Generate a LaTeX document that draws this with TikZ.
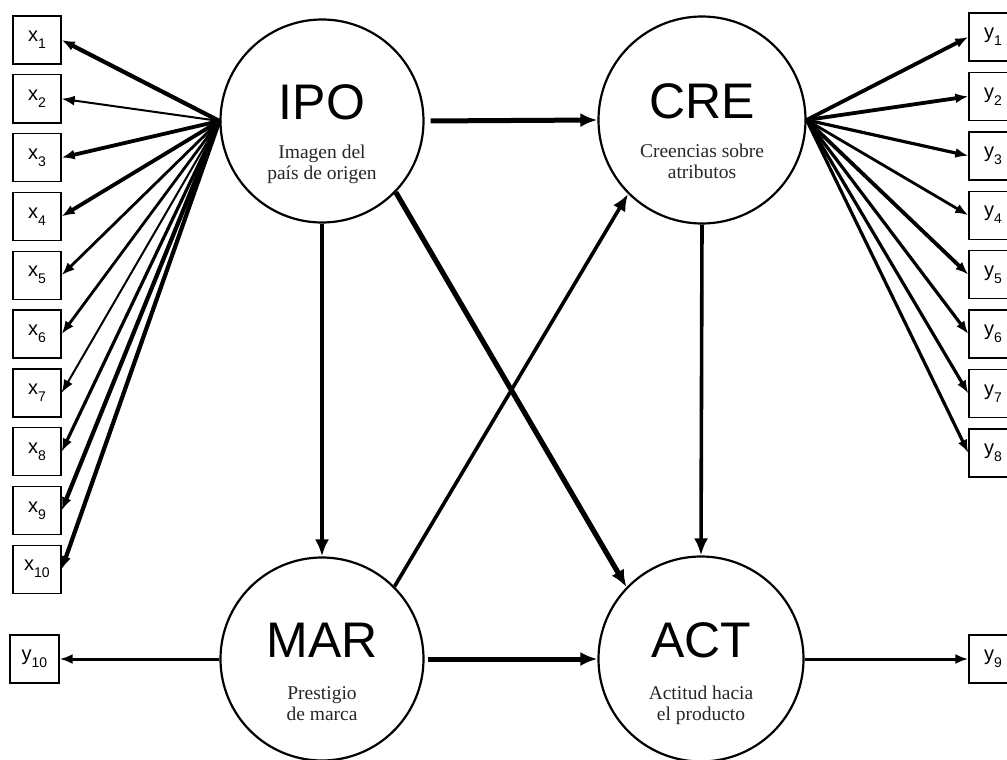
\documentclass[tikz,border=0pt]{standalone}
\usepackage{fontspec}
\setmainfont{Liberation Sans}
\newfontfamily\subfont{Liberation Serif}
\usetikzlibrary{arrows.meta}
\newcommand\mv[2]{#1\raisebox{-0.35em}{\fontsize{14}{14}\selectfont #2}}
\begin{document}
\begin{tikzpicture}[x=1pt,y=-1pt,
  lat/.style={circle,draw,line width=2.2pt,minimum size=203pt,inner sep=0pt},
  obs/.style={draw,line width=1.4pt,minimum width=48pt,minimum height=48pt,inner sep=0pt,font=\fontsize{20}{20}\selectfont},
  ttl/.style={anchor=base,font=\fontsize{50}{50}\selectfont,inner sep=0pt},
  sub/.style={anchor=base,font=\subfont\fontsize{19.5}{21}\selectfont,inner sep=0pt,text=black!85},
  arr/.style={-{Latex[length=17pt,width=14pt]}},
  farr/.style={-{Latex[length=13pt,width=10pt]}},
]
\useasboundingbox (0,0) rectangle (1007,760);

% latent variables
\node[lat] (IPO) at (322,121) {};
\node[lat,minimum size=207pt] (CRE) at (702,120) {};
\node[lat] (MAR) at (322,659) {};
\node[lat,minimum size=205pt] (ACT) at (701,659) {};

\node[ttl] (IPOt) at (322,119.5) {IPO};
\node[sub] (IPOa) at (322,158) {Imagen del};
\node[sub] (IPOb) at (322,179) {país de origen};
\node[ttl] (CREt) at (702,118.5) {CRE};
\node[sub] (CREa) at (702,157) {Creencias sobre};
\node[sub] (CREb) at (702,178) {atributos};
\node[ttl] (MARt) at (322,657.5) {MAR};
\node[sub] (MARa) at (322,699) {Prestigio};
\node[sub] (MARb) at (322,720) {de marca};
\node[ttl] (ACTt) at (701,657.5) {ACT};
\node[sub] (ACTa) at (701,699) {Actitud hacia};
\node[sub] (ACTb) at (701,720) {el producto};

% indicators
\foreach \i in {1,...,10} {
  \node[obs] (x\i) at (37,{40+58.8*(\i-1)}) {\mv{x}{\i}};
}
\foreach \i in {1,...,8} {
  \node[obs] (y\i) at (993,{37+59.4*(\i-1)}) {\mv{y}{\i}};
}
\node[obs] (y9) at (993,659) {\mv{y}{9}};
\node[obs,minimum width=49pt] (y10) at (34.5,659) {\mv{y}{10}};

% measurement arrows
\foreach \i/\w in {1/4.2,2/2,3/3.8,4/3.8,5/2.8,6/2.8,7/2,8/3.2,9/4.2,10/4.2}
  \draw[farr,line width=\w pt] (IPO.west) -- (x\i.east);
\foreach \i/\w in {1/3.8,2/3.8,3/3.2,4/2.8,5/3.8,6/3.2,7/3.2,8/3.2}
  \draw[farr,line width=\w pt] (CRE.east) -- (y\i.west);
\draw[farr,line width=3pt] (ACT.east) -- (y9.west);
\draw[farr,line width=3pt] (MAR.west) -- (y10.east);

% structural arrows
\draw[arr,line width=5pt,shorten <=6pt] (IPO.east) -- (CRE.west);
\draw[arr,line width=3.6pt] (IPO.south) -- (MAR.north);
\draw[arr,line width=3.6pt] (CRE.south) -- (ACT.north);
\draw[arr,line width=5.2pt] (IPO.-44) -- (ACT.136);
\draw[arr,line width=3.6pt] (MAR.45) -- (CRE.225);
\draw[arr,line width=5pt,shorten <=3pt] (MAR.east) -- (ACT.west);
\end{tikzpicture}
\end{document}
